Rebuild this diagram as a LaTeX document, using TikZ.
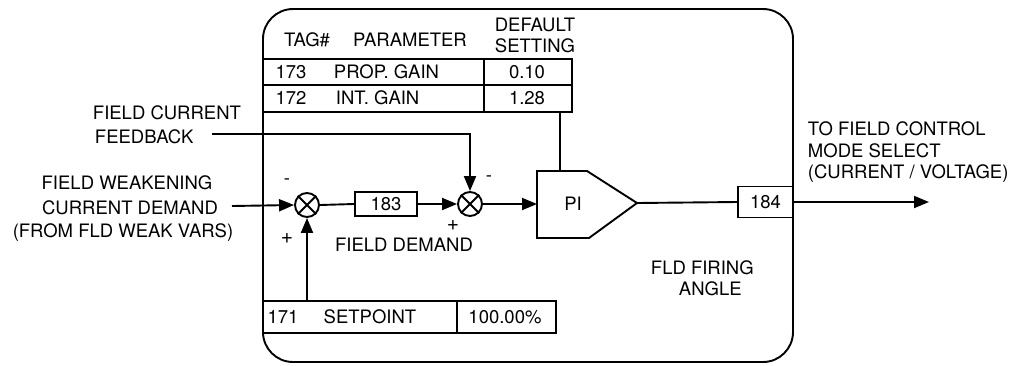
\documentclass[tikz,border=0pt]{standalone}
\usepackage{fontspec}
\setmainfont{TeX Gyre Heros}
\usetikzlibrary{arrows.meta}
\begin{document}
\begin{tikzpicture}[x=1pt,y=-1pt,line width=1.9pt,
  lbl/.style={inner sep=0pt,font=\fontsize{18.5}{22}\selectfont},
  arr/.style={-{Triangle[length=15pt,width=12pt]}},
  sumj/.style={circle,draw,minimum size=24pt,inner sep=0pt},
  tagbox/.style={draw,inner sep=0pt}]
\useasboundingbox (0,0) rectangle (1035,365);
% main frame
\draw[rounded corners=30pt] (263,9) rectangle (793,362);
% parameter table
\draw (263,59) rectangle (572,112);
\draw (263,85) -- (572,85);
\draw (484,59) -- (484,112);
\node[lbl] (htag) at (307,40) {TAG\#};
\node[lbl] (hpar) at (410,40) {PARAMETER};
\node[lbl] (hdef) at (535,25) {DEFAULT};
\node[lbl] (hset) at (535,46) {SETTING};
\node[lbl] (t173) at (291,72) {173};
\node[lbl,anchor=west] (p173) at (333,72) {PROP. GAIN};
\node[lbl] (v173) at (527,72) {0.10};
\node[lbl] (t172) at (291,98) {172};
\node[lbl,anchor=west] (p172) at (335,98) {INT. GAIN};
\node[lbl] (v172) at (527,98) {1.28};
\coordinate (tab) at (560,112);
% setpoint table
\draw (263,301) rectangle (556,333);
\draw (457,301) -- (457,333);
\coordinate (spt) at (307,301);
\node[lbl] (t171) at (283,317) {171};
\node[lbl] (p171) at (370,317) {SETPOINT};
\node[lbl] (v171) at (505,317) {100.00\%};
% summing junctions
\node[sumj] (s1) at (307,205) {};
\draw (s1.north west) -- (s1.south east) (s1.north east) -- (s1.south west);
\node[sumj] (s2) at (470,204) {};
\draw (s2.north west) -- (s2.south east) (s2.north east) -- (s2.south west);
\node[lbl] (m1) at (287,182) {-};
\node[lbl,font=\fontsize{21}{22}\selectfont] (pl1) at (287,239) {+};
\node[lbl] (m2) at (489,179) {-};
\node[lbl,font=\fontsize{21}{22}\selectfont] (pl2) at (453,226) {+};
% boxes
\node[tagbox,minimum width=62pt,minimum height=24pt,lbl] (b183) at (386,204) {183};
\node[tagbox,minimum width=55pt,minimum height=31pt,lbl] (b184) at (765.5,202) {184};
\node[lbl] (fd) at (404,245) {FIELD DEMAND};
% PI block
\draw (537,171) -- (587,171) -- (637,203) -- (589,238) -- (537,238) -- cycle;
\coordinate (pit) at (560,171);
\coordinate (piin) at (537,204);
\coordinate (piout) at (637,203);
\node[lbl] (pi) at (573,204) {PI};
% labels outside
\node[lbl,anchor=west] (fcc) at (92,113) {FIELD CURRENT};
\node[lbl,anchor=west] (fcf) at (94,137) {FEEDBACK};
\coordinate (fbs) at (212,134);
\node[lbl] (fw1) at (127,183) {FIELD WEAKENING};
\node[lbl] (fw2) at (130,208) {CURRENT DEMAND};
\node[lbl] (fw3) at (123,233) {(FROM FLD WEAK VARS)};
\coordinate (fws) at (232,206);
\node[lbl,anchor=west] (ffa1) at (650,268) {FLD FIRING};
\node[lbl,anchor=west] (ffa2) at (678,289) {ANGLE};
\node[lbl,anchor=west] (tf1) at (807,129) {TO FIELD CONTROL};
\node[lbl,anchor=west] (tf2) at (807,151) {MODE SELECT};
\node[lbl,anchor=west] (tf3) at (807,174) {(CURRENT / VOLTAGE)};
\coordinate (out) at (929,202);
% connectors
\draw[arr] (fws) -- (s1.west);
\draw[arr] (spt) -- (s1.south);
\draw (s1.east) -- (b183.west);
\draw[arr] (b183.east) -- (s2.west);
\draw[arr] (fbs) -| (s2.north);
\draw[arr] (s2.east) -- (piin);
\draw (tab) -- (pit);
\draw (piout) -- (b184.west);
\draw[arr] (b184.east) -- (out);
\end{tikzpicture}
\end{document}
